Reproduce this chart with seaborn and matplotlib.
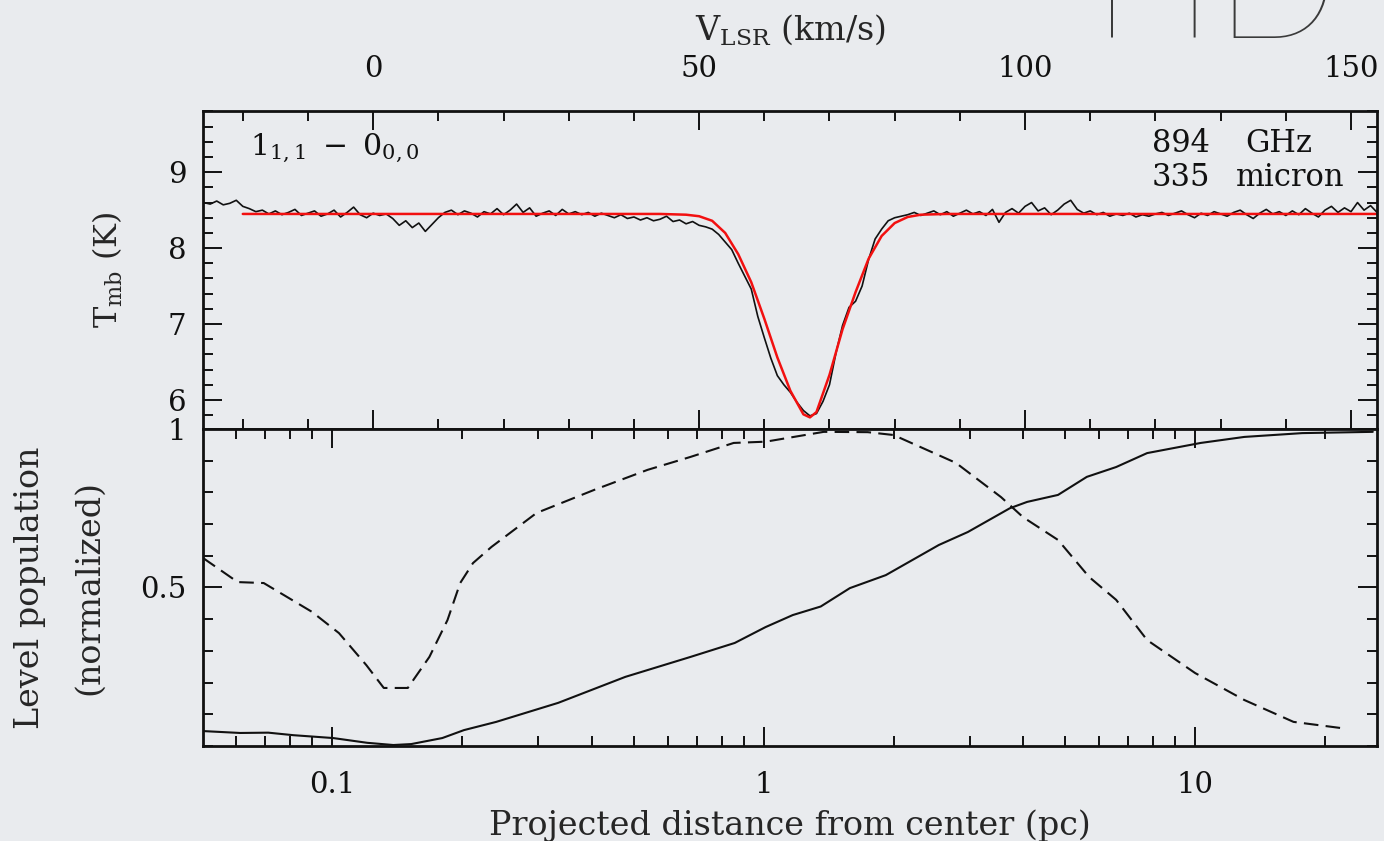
import numpy as np
import matplotlib
matplotlib.use("Agg")
import matplotlib.pyplot as plt
from matplotlib.ticker import MultipleLocator, LogLocator, NullFormatter
import seaborn as sns

BG = "#e9ebee"

# Spectrum: 1 km/s channels from -26 to 154 km/s, Tmb in K
v_channels = np.arange(-26, 155, 1)
spec_T = [
    8.60, 8.58, 8.62, 8.57, 8.59, 8.63, 8.55,
    8.52, 8.48, 8.50, 8.45, 8.49, 8.44, 8.47, 8.51, 8.43, 8.46,
    8.49, 8.42, 8.45, 8.50, 8.41, 8.47, 8.54, 8.44, 8.40, 8.46,
    8.43, 8.45, 8.39, 8.30, 8.36, 8.27, 8.33, 8.22, 8.31, 8.40,
    8.47, 8.50, 8.44, 8.49, 8.46, 8.41, 8.48, 8.45, 8.52, 8.44,
    8.50, 8.58, 8.47, 8.53, 8.42, 8.46, 8.49, 8.43, 8.51, 8.45,
    8.48, 8.44, 8.47, 8.42, 8.46, 8.43, 8.40, 8.44, 8.39, 8.41,
    8.37, 8.40, 8.36, 8.38, 8.42, 8.35, 8.37, 8.32, 8.35, 8.30,
    8.28, 8.25, 8.18, 8.08, 7.98, 7.80, 7.63, 7.46, 7.10, 6.82,
    6.55, 6.32, 6.20, 6.10, 5.97, 5.86, 5.79, 5.82, 5.98, 6.20,
    6.62, 6.98, 7.22, 7.30, 7.50, 7.85, 8.12, 8.25, 8.36, 8.40,
    8.42, 8.44, 8.47, 8.43, 8.46, 8.49, 8.44, 8.48, 8.42, 8.46,
    8.50, 8.45, 8.48, 8.43, 8.51, 8.34, 8.47, 8.52, 8.46, 8.55,
    8.60, 8.49, 8.53, 8.44, 8.50, 8.58, 8.63, 8.51, 8.46, 8.49,
    8.44, 8.47, 8.42, 8.45, 8.43, 8.46, 8.41, 8.44, 8.42, 8.45,
    8.47, 8.43, 8.46, 8.49, 8.44, 8.40, 8.46, 8.43, 8.48, 8.45,
    8.42, 8.47, 8.50, 8.44, 8.39, 8.46, 8.51, 8.45, 8.48, 8.43,
    8.49, 8.44, 8.52, 8.46, 8.41, 8.50, 8.55, 8.47, 8.53, 8.48,
    8.60, 8.50, 8.56, 8.47,
]

# Fitted profile (red)
fit_v = [-20, 30, 44, 48, 50, 52, 54, 56, 58, 60, 62, 64, 66, 67, 68,
         70, 72, 74, 76, 78, 80, 82, 84, 88, 154]
fit_T = [8.45, 8.45, 8.45, 8.44, 8.42, 8.36, 8.20, 7.92, 7.55, 7.07, 6.56,
         6.12, 5.81, 5.77, 5.84, 6.33, 6.93, 7.42, 7.86, 8.16, 8.33, 8.41,
         8.44, 8.45, 8.45]

# Level populations vs projected distance
solid_pc = [0.0502, 0.0612, 0.0711, 0.0813, 0.1005, 0.1205, 0.1386, 0.1525,
            0.180, 0.202, 0.240, 0.334, 0.478, 0.677, 0.857, 1.01, 1.168,
            1.356, 1.584, 1.919, 2.546, 2.973, 3.72, 4.08, 4.81, 5.61, 6.56,
            7.74, 10.3, 13.0, 17.7, 25.8]
solid_pop = [0.047, 0.041, 0.042, 0.034, 0.025, 0.010, 0.003, 0.006,
             0.025, 0.050, 0.076, 0.136, 0.218, 0.281, 0.325, 0.375, 0.413,
             0.440, 0.498, 0.539, 0.634, 0.675, 0.750, 0.770, 0.792, 0.849,
             0.880, 0.924, 0.956, 0.975, 0.987, 0.991]

dash_pc = [0.0502, 0.0604, 0.0694, 0.0898, 0.1037, 0.120, 0.1317, 0.1497,
           0.168, 0.185, 0.198, 0.212, 0.234, 0.2975, 0.405, 0.538, 0.677,
           0.852, 1.011, 1.378, 1.743, 2.00, 2.79, 3.55, 3.99, 4.81, 5.68,
           6.56, 7.74, 10.0, 13.0, 16.9, 22.5]
dash_pop = [0.593, 0.517, 0.514, 0.423, 0.356, 0.255, 0.183, 0.183,
            0.281, 0.397, 0.514, 0.577, 0.628, 0.735, 0.808, 0.871, 0.912,
            0.956, 0.960, 0.991, 0.990, 0.981, 0.893, 0.785, 0.722, 0.650,
            0.533, 0.461, 0.334, 0.230, 0.145, 0.076, 0.054]

sns.set_theme(style="ticks")
plt.rcParams["font.family"] = ["DejaVu Serif"]
plt.rcParams["mathtext.fontset"] = "dejavuserif"

fig = plt.figure(figsize=(13.84, 8.41), dpi=100, facecolor=BG)
ax1 = fig.add_axes([0.1467, 0.4899, 0.8483, 0.3781], facecolor=BG)
ax2 = fig.add_axes([0.1467, 0.1130, 0.8483, 0.3769], facecolor=BG)

# --- top panel: spectrum
sns.lineplot(x=v_channels, y=spec_T, ax=ax1, color="#111111", lw=1.2)
sns.lineplot(x=fit_v, y=fit_T, ax=ax1, color="#f21010", lw=1.8)
ax1.set_xlim(-26.1, 154.0)
ax1.set_ylim(5.617, 9.806)
ax1.xaxis.set_major_locator(MultipleLocator(50))
ax1.xaxis.set_minor_locator(MultipleLocator(10))
ax1.yaxis.set_major_locator(MultipleLocator(1))
ax1.yaxis.set_minor_locator(MultipleLocator(0.2))
ax1.tick_params(which="both", direction="in", top=True, right=True,
                bottom=True, left=True, labelbottom=False, labeltop=True,
                colors="#111111", width=1.4, labelsize=21)
ax1.tick_params(which="major", length=13.5)
ax1.tick_params(which="minor", length=7.2)
ax1.tick_params(axis="x", pad=20)
ax1.tick_params(axis="y", pad=12)
ax1.xaxis.set_label_position("top")
ax1.set_xlabel(r"V$_{\rm LSR}$ (km/s)", fontsize=24, va="center")
ax1.xaxis.set_label_coords(0.5, 1.255)
ax1.set_ylabel(r"T$_{\rm mb}$ (K)", fontsize=23, va="center")
ax1.yaxis.set_label_coords(-0.081, 0.5)

ax1.text(0.040, 0.862, r"$1_{1,1}\ -\ 0_{0,0}$", transform=ax1.transAxes,
         fontsize=21.5, va="baseline", ha="left", color="#111111")
# frequency / wavelength note, numbers and units in two columns
ax1.text(0.808, 0.899, "894", transform=ax1.transAxes,
         fontsize=22, va="center", ha="left", color="#111111")
ax1.text(0.888, 0.899, "GHz", transform=ax1.transAxes,
         fontsize=22, va="center", ha="left", color="#111111")
ax1.text(0.808, 0.792, "335", transform=ax1.transAxes,
         fontsize=22, va="center", ha="left", color="#111111")
ax1.text(0.880, 0.792, "micron", transform=ax1.transAxes,
         fontsize=22, va="center", ha="left", color="#111111")

# --- bottom panel: level populations
ax2.set_xscale("log")
sns.lineplot(x=solid_pc, y=solid_pop, ax=ax2, color="#111111", lw=1.5)
sns.lineplot(x=dash_pc, y=dash_pop, ax=ax2, color="#111111", lw=1.5,
             linestyle=(0, (7, 3.5)))
ax2.set_xlim(0.0502, 26.4)
ax2.set_ylim(0, 1)
ax2.set_xticks([0.1, 1, 10], labels=["0.1", "1", "10"])
ax2.xaxis.set_minor_locator(LogLocator(base=10, subs=np.arange(2, 10)))
ax2.xaxis.set_minor_formatter(NullFormatter())
ax2.set_yticks([0.5, 1.0], labels=["0.5", "1"])
ax2.yaxis.set_minor_locator(MultipleLocator(0.1))
ax2.tick_params(which="both", direction="in", top=True, right=True,
                colors="#111111", width=1.4, labelsize=21)
ax2.tick_params(which="major", length=13.5)
ax2.tick_params(which="minor", length=7.2)
ax2.tick_params(axis="x", pad=18)
ax2.tick_params(axis="y", pad=12)
ax2.set_xlabel("Projected distance from center (pc)", fontsize=24, va="center")
ax2.xaxis.set_label_coords(0.5, -0.252)
ax2.set_ylabel("Level population\n(normalized)", fontsize=24, va="center",
               linespacing=2.1)
ax2.yaxis.set_label_coords(-0.122, 0.5)

for ax in (ax1, ax2):
    for sp in ax.spines.values():
        sp.set_linewidth(2.0)
        sp.set_color("#111111")
        sp.set_visible(True)

# watermark lettering in the top-right corner
fig.text(1092 / 1384, 1 - 38 / 841, "HD", fontsize=118, color="#3a3a3a",
         family=["Lato", "DejaVu Sans"], fontweight="light",
         ha="left", va="baseline")

fig.savefig("out.png", dpi=100, facecolor=BG)
